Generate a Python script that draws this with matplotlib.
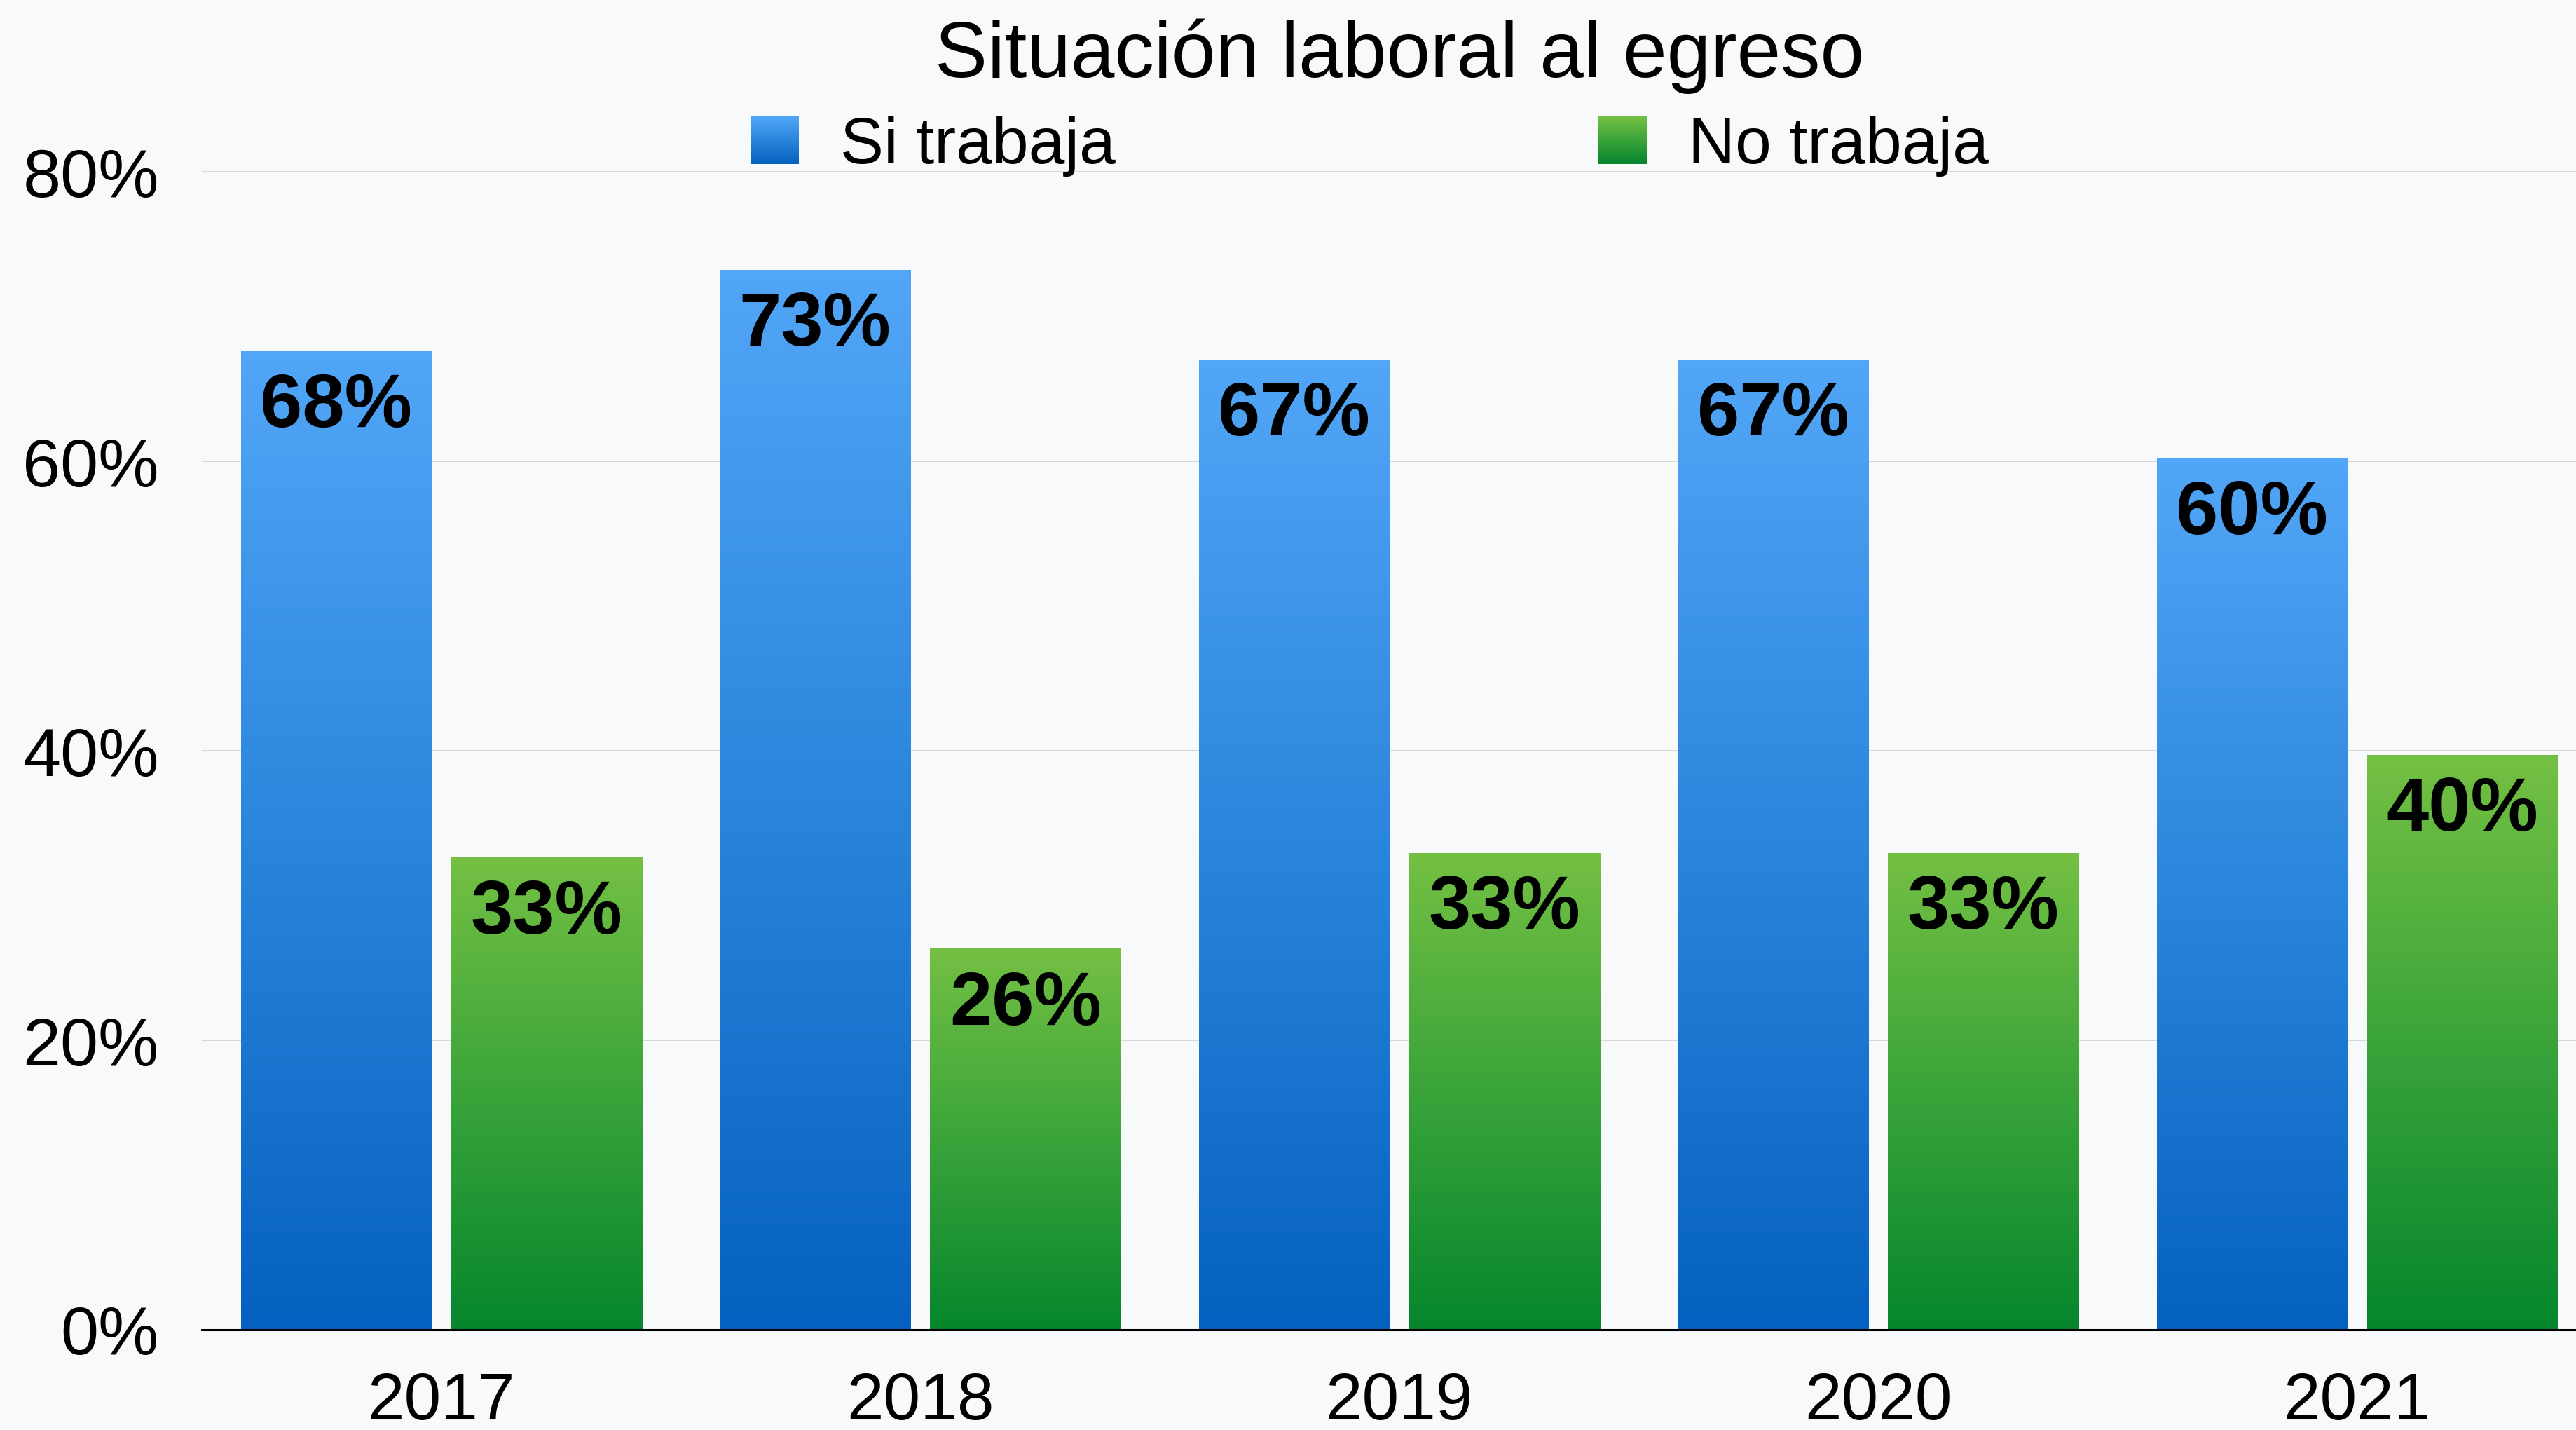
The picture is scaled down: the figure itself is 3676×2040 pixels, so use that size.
import matplotlib
matplotlib.use("Agg")
import matplotlib.pyplot as plt
import numpy as np
from matplotlib.colors import LinearSegmentedColormap
from matplotlib.legend_handler import HandlerBase
from matplotlib.patches import Rectangle, Circle

years = ["2017", "2018", "2019", "2020", "2021"]
si_trabaja = [67.6, 73.2, 67.0, 67.0, 60.2]
no_trabaja = [32.6, 26.3, 32.9, 32.9, 39.7]
series_names = ["Si trabaja", "No trabaja"]
y_ticks = [0, 20, 40, 60, 80]
title = "Situación laboral al egreso"

plt.rcParams["font.family"] = ["Liberation Sans", "DejaVu Sans"]

blue_cmap = LinearSegmentedColormap.from_list("blue", ["#0561BF", "#2A85DC", "#52A6F7"])
green_cmap = LinearSegmentedColormap.from_list("green", ["#06862D", "#3AA43A", "#74C043"])


class GradientHandler(HandlerBase):
    # legend square with the same vertical gradient as the bars
    def __init__(self, cmap, n=40):
        super().__init__()
        self.cmap = cmap
        self.n = n

    def create_artists(self, legend, orig_handle, xdescent, ydescent,
                       width, height, fontsize, trans):
        arts = []
        for i in range(self.n):
            r = Rectangle((-xdescent, -ydescent + height * i / self.n), width,
                          height / self.n * 1.05, facecolor=self.cmap(i / (self.n - 1)),
                          edgecolor="none", transform=trans)
            arts.append(r)
        return arts


fig = plt.figure(figsize=(36.76, 20.405), dpi=100)
fig.patch.set_facecolor("#F8F9FB")

# faint decoration in the top-left corner
fig.patches.append(Circle((-0.02, 1.05), 0.045, transform=fig.transFigure,
                          facecolor="#7390B4", edgecolor="none", alpha=0.8))

ax = fig.add_axes([0.0784, 0.0701, 0.9216, 0.8115])
ax.set_facecolor("none")

x = np.arange(len(years))
width = 0.398
offset = 0.2196

bars_si = ax.bar(x - offset, si_trabaja, width, color="none", edgecolor="none", zorder=2)
bars_no = ax.bar(x + offset, no_trabaja, width, color="none", edgecolor="none", zorder=2)

grad = np.linspace(0, 1, 256).reshape(-1, 1)
for bars, cmap in [(bars_si, blue_cmap), (bars_no, green_cmap)]:
    for b in bars:
        bx, by = b.get_xy()
        bw, bh = b.get_width(), b.get_height()
        ax.imshow(grad, extent=[bx, bx + bw, by, by + bh], origin="lower",
                  aspect="auto", cmap=cmap, zorder=2, interpolation="bicubic")
        ax.annotate(f"{bh:.0f}%", xy=(bx + bw / 2, by + bh), xytext=(0, -21),
                    textcoords="offset points", ha="center", va="top",
                    fontsize=78, fontweight="bold", color="black", zorder=4)

ax.set_xlim(-0.5, 4.457)
ax.set_ylim(0, 80.2)
ax.set_yticks(y_ticks)
ax.set_yticklabels([f"{t}%" for t in y_ticks])
ax.set_xticks(x)
ax.set_xticklabels(years)
ax.tick_params(axis="y", length=0, pad=44, labelsize=70)
ax.tick_params(axis="x", length=0, pad=42, labelsize=68)

ax.yaxis.grid(True, color="#D2D4D8", linewidth=1.3, zorder=0)
ax.set_axisbelow(True)
for s in ["top", "right", "left"]:
    ax.spines[s].set_visible(False)
ax.spines["bottom"].set_color("black")
ax.spines["bottom"].set_linewidth(2.2)
ax.spines["bottom"].set_zorder(5)

fig.text(0.5434, 0.946, title, ha="center", va="baseline", fontsize=81)

handles = [Rectangle((0, 0), 1, 1), Rectangle((0, 0), 1, 1)]
leg = ax.legend(handles, series_names, loc="center", ncol=2,
                bbox_to_anchor=(0.5316, 0.8978), bbox_transform=fig.transFigure,
                frameon=False, fontsize=67, handlelength=0.75, handleheight=0.75,
                handletextpad=0.63, columnspacing=7.4, borderpad=0,
                handler_map={handles[0]: GradientHandler(blue_cmap),
                             handles[1]: GradientHandler(green_cmap)})

fig.savefig("out.png", dpi=100, facecolor=fig.get_facecolor())
